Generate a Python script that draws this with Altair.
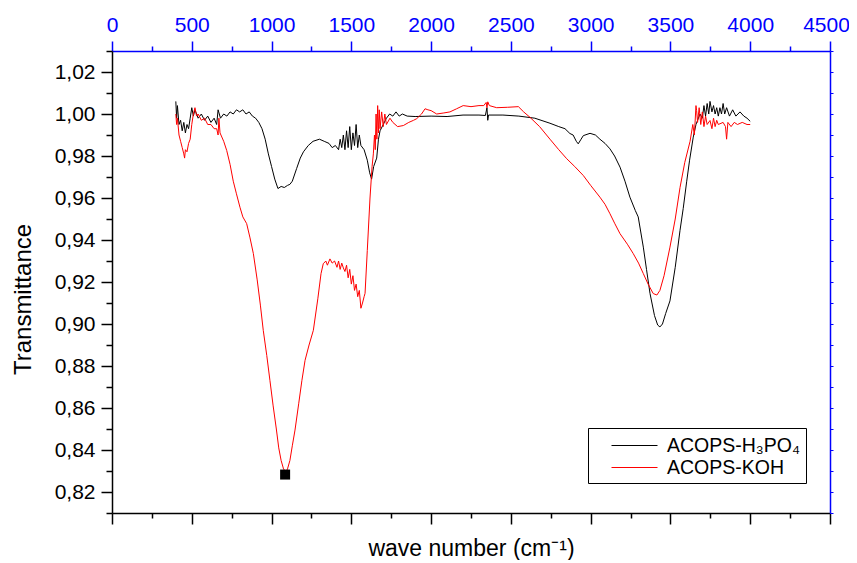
import altair as alt
import pandas as pd

FONT = "Liberation Sans"
BLUE = "#0000ff"
NBSP = "\u00a0"

# ---------------- data ----------------
names = ["ACOPS-H₃PO₄", "ACOPS-KOH"]

x_h3po4 = [400, 405, 410, 420, 430, 440, 450, 460, 470, 480, 490, 500, 510, 520, 540, 560, 580, 600,
           620, 640, 656, 665, 680, 700, 720, 740, 760, 780, 800, 820, 840, 860, 880, 900, 920, 940,
           960, 980, 1000, 1020, 1040, 1060, 1080, 1100, 1115, 1130, 1157, 1180, 1200, 1230, 1260,
           1300, 1330, 1360, 1380, 1400, 1420, 1430, 1440, 1450, 1460, 1470, 1480, 1490, 1500, 1510,
           1520, 1530, 1540, 1550, 1560, 1580, 1600, 1615, 1627, 1640, 1659, 1670, 1680, 1700, 1720,
           1740, 1760, 1780, 1800, 1820, 1850, 1900, 2000, 2100, 2200, 2300, 2340, 2350, 2355, 2360,
           2450, 2550, 2650, 2745, 2800, 2839, 2870, 2890, 2910, 2922, 2940, 2954, 2996, 3030, 3058,
           3090, 3121, 3150, 3184, 3215, 3246, 3280, 3298, 3330, 3350, 3372, 3400, 3420, 3434, 3450,
           3470, 3497, 3530, 3560, 3580, 3602, 3620, 3643, 3660, 3685, 3700, 3710, 3720, 3730, 3740,
           3748, 3760, 3770, 3780, 3790, 3800, 3810, 3820, 3830, 3840, 3852, 3870, 3890, 3910, 3936,
           3960, 3980, 4000]
y_h3po4 = [1.006, 0.998, 1.004, 0.995, 0.997, 0.992, 0.996, 0.991, 0.995, 0.993, 0.998, 1.003, 0.999,
           1.002, 0.998, 1.000, 0.997, 0.999, 0.996, 0.998, 0.995, 1.002, 0.998, 1.000, 0.999, 1.001,
           1.000, 1.002, 1.001, 1.002, 1.000, 1.001, 0.999, 0.998, 0.996, 0.993, 0.988, 0.981, 0.975,
           0.969, 0.9645, 0.9655, 0.965, 0.966, 0.9665, 0.968, 0.974, 0.979, 0.982, 0.985, 0.987,
           0.988, 0.987, 0.986, 0.984, 0.985, 0.983, 0.988, 0.984, 0.990, 0.983, 0.992, 0.984, 0.994,
           0.983, 0.991, 0.985, 0.995, 0.984, 0.990, 0.985, 0.983, 0.978, 0.972, 0.969, 0.975, 0.979,
           0.988, 0.992, 0.995, 0.998, 1.000, 0.999, 1.001, 0.999, 1.000, 0.999, 0.9988, 0.999,
           0.9988, 0.9995, 0.9995, 0.9993, 1.003, 0.997, 0.9995, 0.9995, 0.999, 0.998, 0.9956, 0.994,
           0.993, 0.9907, 0.990, 0.987, 0.9858, 0.988, 0.9897, 0.9908, 0.990, 0.988, 0.986, 0.9834,
           0.980, 0.9747, 0.968, 0.9604, 0.954, 0.951, 0.9366, 0.926, 0.9145, 0.904, 0.8995, 0.8986,
           0.900, 0.905, 0.911, 0.927, 0.9446, 0.955, 0.968, 0.978, 0.989, 0.995, 1.000, 0.998, 1.004,
           0.999, 1.005, 1.000, 1.006, 1.001, 1.004, 1.000, 1.003, 0.999, 1.003, 1.000, 1.005, 1.000,
           1.003, 0.999, 1.002, 0.999, 1.001, 0.999, 0.998, 0.9965]

x_koh = [400, 405, 410, 420, 430, 440, 450, 455, 460, 470, 480, 490, 500, 510, 520, 530, 540, 560,
         580, 600, 620, 640, 656, 665, 670, 677, 700, 719, 740, 760, 780, 802, 820, 844, 865, 886,
         910, 930, 948, 970, 990, 1010, 1030, 1045, 1060, 1075, 1090, 1100, 1115, 1130, 1147, 1170,
         1190, 1210, 1235, 1262, 1290, 1310, 1324, 1340, 1350, 1366, 1380, 1395, 1410, 1420, 1430,
         1440, 1450, 1460, 1470, 1480, 1490, 1500, 1510, 1520, 1530, 1540, 1550, 1560, 1570, 1580,
         1586, 1600, 1617, 1630, 1638, 1645, 1650, 1655, 1660, 1665, 1670, 1675, 1680, 1690, 1700,
         1710, 1720, 1742, 1760, 1790, 1826, 1860, 1890, 1910, 1940, 1962, 1980, 2000, 2035, 2080,
         2118, 2160, 2201, 2250, 2300, 2330, 2345, 2350, 2355, 2365, 2411, 2480, 2547, 2580, 2620,
         2680, 2745, 2800, 2850, 2900, 2954, 3000, 3058, 3090, 3121, 3150, 3184, 3230, 3267, 3300,
         3330, 3360, 3392, 3415, 3434, 3460, 3497, 3530, 3560, 3590, 3623, 3640, 3650, 3660, 3664,
         3670, 3680, 3690, 3700, 3710, 3720, 3730, 3748, 3760, 3770, 3780, 3790, 3800, 3830, 3845,
         3852, 3860, 3880, 3900, 3920, 3950, 3980, 4000]
y_koh = [1.000, 0.995, 0.998, 0.990, 0.987, 0.984, 0.981, 0.979, 0.983, 0.982, 0.986, 0.988, 0.995,
         1.000, 1.003, 0.999, 1.000, 0.997, 0.998, 0.995, 0.995, 0.993, 0.993, 0.990, 0.998, 0.991,
         0.987, 0.9826, 0.976, 0.968, 0.962, 0.9556, 0.951, 0.9478, 0.941, 0.9335, 0.921, 0.909,
         0.897, 0.885, 0.873, 0.861, 0.850, 0.841, 0.835, 0.831, 0.8295, 0.831, 0.835, 0.842, 0.8495,
         0.862, 0.873, 0.8827, 0.890, 0.897, 0.912, 0.924, 0.9287, 0.930, 0.928, 0.931, 0.929, 0.930,
         0.927, 0.930, 0.926, 0.929, 0.9267, 0.925, 0.928, 0.922, 0.926, 0.919, 0.923, 0.916, 0.919,
         0.913, 0.916, 0.9075, 0.910, 0.913, 0.9146, 0.935, 0.960, 0.975, 0.981, 0.990, 0.983, 1.000,
         0.988, 1.004, 0.991, 1.002, 0.993, 1.001, 0.994, 1.000, 0.995, 0.998, 0.996, 0.994, 0.9945,
         0.996, 0.997, 0.9978, 1.000, 1.0025, 1.002, 1.0016, 1.000, 1.0005, 1.001, 1.0025, 1.004,
         1.0035, 1.004, 1.004, 1.0055, 1.003, 1.0058, 1.004, 1.003, 1.0032, 1.0035, 1.001, 0.9984,
         0.994, 0.988, 0.983, 0.9787, 0.975, 0.9707, 0.966, 0.9604, 0.957, 0.9525, 0.948, 0.943,
         0.938, 0.9335, 0.929, 0.924, 0.919, 0.9145, 0.9138, 0.916, 0.923, 0.9366, 0.950, 0.965,
         0.977, 0.987, 0.995, 0.990, 1.004, 1.0016, 0.996, 1.003, 0.995, 1.001, 0.994, 0.999, 0.995,
         0.9969, 0.993, 0.998, 0.994, 0.997, 0.995, 0.996, 0.994, 0.988, 0.996, 0.994, 0.996, 0.995,
         0.996, 0.995, 0.995]

marker_x = [1085]
marker_y = [0.8283]

x_major = [0, 500, 1000, 1500, 2000, 2500, 3000, 3500, 4000, 4500]
x_minor = [250, 750, 1250, 1750, 2250, 2750, 3250, 3750, 4250]
y_major = [0.82, 0.84, 0.86, 0.88, 0.90, 0.92, 0.94, 0.96, 0.98, 1.00, 1.02]
y_minor = [0.81, 0.83, 0.85, 0.87, 0.89, 0.91, 0.93, 0.95, 0.97, 0.99, 1.01, 1.03]
y_all = sorted(y_major + y_minor)

# ---------------- tables ----------------
df = pd.concat([
    pd.DataFrame({"x": x_h3po4, "y": y_h3po4, "series": names[0]}),
    pd.DataFrame({"x": x_koh, "y": y_koh, "series": names[1]}),
])
mdf = pd.DataFrame({"x": marker_x, "y": marker_y})
xmaj = pd.DataFrame({"t": x_major})
xmin = pd.DataFrame({"t": x_minor})
ymin = pd.DataFrame({"t": y_minor})
yall = pd.DataFrame({"t": y_all})

xs = alt.Scale(domain=[0, 4500], nice=False, zero=False)
ys = alt.Scale(domain=[0.81, 1.03], nice=False, zero=False)

lines = alt.Chart(df).mark_line(strokeWidth=1).encode(
    x=alt.X("x:Q", scale=xs, axis=alt.Axis(
        orient="bottom", values=x_major, tickSize=11, labels=False, grid=False,
        domainColor="black", tickColor="black", domainWidth=1.5, tickWidth=1.5,
        title="wave number (cm⁻¹)", titleFont=FONT, titleFontSize=23, titleFontWeight="normal",
        titleColor="black", titleY=42, titleBaseline="alphabetic")),
    y=alt.Y("y:Q", scale=ys, axis=alt.Axis(
        orient="left", values=y_major, tickSize=11, grid=False,
        domainColor="black", tickColor="black", domainWidth=1.5, tickWidth=1.5,
        labelExpr="replace(format(datum.value, '.2f'), '.', ',')",
        labelFont=FONT, labelFontSize=21, labelColor="black", labelPadding=6,
        title="Transmittance", titleFont=FONT, titleFontSize=24, titleFontWeight="normal",
        titleColor="black", titleAngle=270, titleX=-89, titleY=248,
        titleAlign="center", titleBaseline="middle")),
    color=alt.Color("series:N", scale=alt.Scale(domain=names, range=["black", "red"]),
                    legend=alt.Legend(
                        title=None, orient="none", legendX=476, legendY=377,
                        direction="vertical", symbolType="M-2,0H2", symbolSize=529,
                        symbolStrokeWidth=1, labelFont=FONT, labelFontSize=19.5,
                        labelColor="black", strokeColor="black", fillColor="white",
                        padding=5.5, rowPadding=0, labelOffset=20.5, symbolOffset=29,
                        labelExpr="datum.label + '" + NBSP * 2 + "'")),
)

marker = alt.Chart(mdf).mark_square(size=100, color="black", opacity=1).encode(
    x=alt.X("x:Q", scale=xs, axis=None),
    y=alt.Y("y:Q", scale=ys, axis=None),
)

top_major = alt.Chart(xmaj).mark_point(opacity=0).encode(
    x=alt.X("t:Q", scale=xs, axis=alt.Axis(
        orient="top", values=x_major, tickSize=10, grid=False, format="d", labelFlush=False,
        labelOverlap=False,
        labelOffset={"condition": {"test": "datum.value === 4500", "value": -4}, "value": 0},
        domainColor=BLUE, tickColor=BLUE, domainWidth=1.5, tickWidth=1.5,
        labelFont=FONT, labelFontSize=21, labelColor=BLUE, labelPadding=6, title=None)),
)

bottom_minor = alt.Chart(xmin).mark_point(opacity=0).encode(
    x=alt.X("t:Q", scale=xs, axis=alt.Axis(
        orient="bottom", values=x_minor, tickSize=5, labels=False, domain=False, grid=False,
        tickColor="black", tickWidth=1.5, title=None)),
)

top_minor = alt.Chart(xmin).mark_point(opacity=0).encode(
    x=alt.X("t:Q", scale=xs, axis=alt.Axis(
        orient="top", values=x_minor, tickSize=5, labels=False, domain=False, grid=False,
        tickColor=BLUE, tickWidth=1.5, title=None)),
)

left_minor = alt.Chart(ymin).mark_point(opacity=0).encode(
    y=alt.Y("t:Q", scale=ys, axis=alt.Axis(
        orient="left", values=y_minor, tickSize=6, labels=False, domain=False, grid=False,
        tickColor="black", tickWidth=1.5, title=None)),
)

right_axis = alt.Chart(yall).mark_point(opacity=0).encode(
    y=alt.Y("t:Q", scale=ys, axis=alt.Axis(
        orient="right", values=y_all, tickSize=3, labels=False, grid=False,
        domainColor=BLUE, tickColor=BLUE, domainWidth=1.5, tickWidth=1, title=None)),
)

chart = alt.layer(
    lines, marker, top_major, bottom_minor, top_minor, left_minor, right_axis
).resolve_scale(x="shared", y="shared").resolve_axis(
    x="independent", y="independent"
).properties(
    width=718, height=462,
    padding={"left": 104, "top": 43, "right": 19, "bottom": 47},
    autosize=alt.AutoSizeParams(type="none"),
    background="white",
).configure_view(stroke=None)

chart.save("out.html", embed_options={"renderer": "svg", "actions": False})
